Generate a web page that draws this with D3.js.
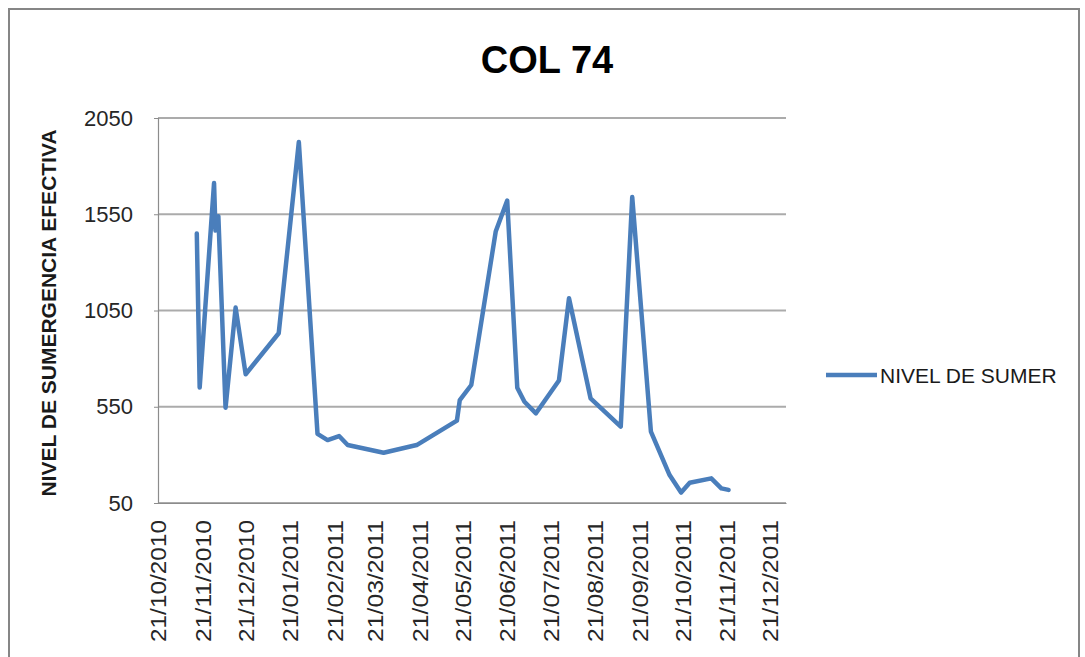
<!DOCTYPE html>
<html>
<head>
<meta charset="utf-8">
<script src="https://d3js.org/d3.v7.min.js"></script>
<style>
  html, body { margin: 0; padding: 0; background: #ffffff; }
  svg { display: block; }
</style>
</head>
<body>
<svg id="chart" width="1085" height="657"></svg>
<script>
// Measurement dates (dd/mm/yyyy readings stored as ISO dates)
const dates = [
  "2010-11-17", "2010-11-19", "2010-11-29", "2010-11-30", "2010-12-02",
  "2010-12-07", "2010-12-14", "2010-12-21", "2011-01-13", "2011-01-27",
  "2011-02-09", "2011-02-16", "2011-02-24", "2011-03-02", "2011-03-27",
  "2011-04-19", "2011-05-17", "2011-05-19", "2011-05-27", "2011-06-13",
  "2011-06-21", "2011-06-28", "2011-07-03", "2011-07-11", "2011-07-27",
  "2011-08-03", "2011-08-18", "2011-09-08", "2011-09-16", "2011-09-29",
  "2011-10-12", "2011-10-20", "2011-10-26", "2011-11-10", "2011-11-17",
  "2011-11-22"
];

// NIVEL DE SUMERGENCIA EFECTIVA for each date
const nivel = [
  1450, 650, 1712, 1465, 1540,
  545, 1065, 719, 932, 1925,
  409, 377, 398, 351, 311,
  351, 478, 585, 663, 1460,
  1621, 649, 576, 516, 686,
  1114, 594, 447, 1639, 421,
  195, 104, 155, 178, 126,
  118
];

// Axis settings
const seriesName = "NIVEL DE SUMER";
const chartTitle = "COL 74";
const yTitle = "NIVEL DE SUMERGENCIA EFECTIVA";
const yTicks = [50, 550, 1050, 1550, 2050];
const xTickDates = [
  "2010-10-21", "2010-11-21", "2010-12-21", "2011-01-21", "2011-02-21",
  "2011-03-21", "2011-04-21", "2011-05-21", "2011-06-21", "2011-07-21",
  "2011-08-21", "2011-09-21", "2011-10-21", "2011-11-21", "2011-12-21"
];
const xDomain = ["2010-10-21", "2012-01-01"];

const parse = d3.utcParse("%Y-%m-%d");
const fmt = d3.utcFormat("%d/%m/%Y");
const data = dates.map((d, i) => ({ date: parse(d), value: nivel[i] }));

const svg = d3.select("#chart");
const plot = { left: 158, right: 786, top: 118, bottom: 503 };

// Outer chart frame
svg.append("rect")
  .attr("x", 9).attr("y", 9)
  .attr("width", 1070).attr("height", 680)
  .attr("fill", "#ffffff")
  .attr("stroke", "#868686")
  .attr("stroke-width", 2);

const x = d3.scaleUtc()
  .domain(xDomain.map(parse))
  .range([plot.left, plot.right]);

const y = d3.scaleLinear()
  .domain([50, 2050])
  .range([plot.bottom, plot.top]);

// Horizontal gridlines
svg.append("g")
  .selectAll("line")
  .data(yTicks)
  .join("line")
  .attr("x1", plot.left).attr("x2", plot.right)
  .attr("y1", d => y(d)).attr("y2", d => y(d))
  .attr("stroke", "#ababab")
  .attr("stroke-width", 2);

// Y axis
const yAxis = svg.append("g")
  .attr("transform", `translate(${plot.left},0)`)
  .call(d3.axisLeft(y).tickValues(yTicks).tickSize(4).tickPadding(21).tickFormat(d3.format("d")));
yAxis.select(".domain").attr("stroke", "#8c8c8c").attr("stroke-width", 1.2);
yAxis.selectAll(".tick line").attr("stroke", "#8c8c8c");
yAxis.selectAll(".tick text")
  .attr("fill", "#262626")
  .style("font-family", "'Liberation Sans', Arial, sans-serif")
  .style("font-size", "22px");

// X axis (date ticks every month on the 21st)
const xAxis = svg.append("g")
  .attr("transform", `translate(0,${plot.bottom})`)
  .call(d3.axisBottom(x).tickValues(xTickDates.map(parse)).tickSize(0).tickFormat(fmt));
xAxis.select(".domain").attr("stroke", "#8c8c8c").attr("stroke-width", 1.2);
xAxis.selectAll(".tick text")
  .attr("fill", "#262626")
  .style("font-family", "'Liberation Sans', Arial, sans-serif")
  .style("font-size", "22px")
  .attr("text-anchor", "end")
  .attr("transform", "translate(0,17) rotate(-90)")
  .attr("x", 0)
  .attr("y", 0)
  .attr("dy", "0.35em")
  .attr("textLength", 122)
  .attr("lengthAdjust", "spacingAndGlyphs");

// Series line
const line = d3.line()
  .x(d => x(d.date))
  .y(d => y(d.value));

svg.append("path")
  .datum(data)
  .attr("d", line)
  .attr("fill", "none")
  .attr("stroke", "#4a7ebb")
  .attr("stroke-width", 4.5)
  .attr("stroke-linejoin", "round")
  .attr("stroke-linecap", "round");

// Title
svg.append("text")
  .attr("x", 547).attr("y", 73)
  .attr("text-anchor", "middle")
  .attr("fill", "#000000")
  .style("font-family", "'Liberation Sans', Arial, sans-serif")
  .style("font-weight", "bold")
  .style("font-size", "38px")
  .text(chartTitle);

// Y axis title
svg.append("text")
  .attr("transform", "translate(56,313) rotate(-90)")
  .attr("text-anchor", "middle")
  .attr("fill", "#1a1a1a")
  .style("font-family", "'Liberation Sans', Arial, sans-serif")
  .style("font-weight", "bold")
  .style("font-size", "21px")
  .text(yTitle);

// Legend
const legend = svg.append("g").attr("transform", "translate(826,375)");
legend.append("line")
  .attr("x1", 0).attr("x2", 51)
  .attr("y1", 0).attr("y2", 0)
  .attr("stroke", "#4a7ebb")
  .attr("stroke-width", 4.5);
legend.append("text")
  .attr("x", 54).attr("y", 8)
  .attr("fill", "#1a1a1a")
  .style("font-family", "'Liberation Sans', Arial, sans-serif")
  .style("font-size", "21px")
  .text(seriesName);
</script>
</body>
</html>
